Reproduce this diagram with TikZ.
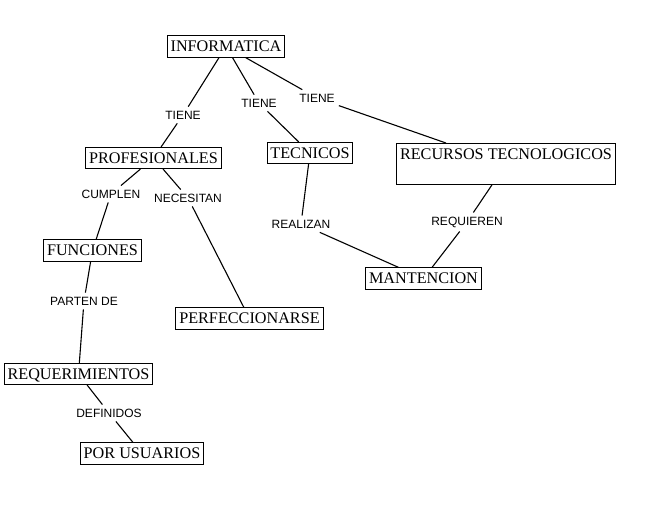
\documentclass[tikz,border=0pt]{standalone}
\usepackage{fontspec}
\setmainfont{Liberation Serif}
\newfontfamily\lblfont{Liberation Sans}
\begin{document}
\begin{tikzpicture}[x=1pt,y=-1pt,
  concept/.style={draw,line width=1pt,font=\fontsize{16.2}{16}\selectfont,inner xsep=3.3pt,inner ysep=5.2pt,text height=10.8pt,text depth=0pt},
  link/.style={font=\lblfont\fontsize{12}{12}\selectfont,inner sep=4pt},
  conn/.style={line width=1.1pt}]
\useasboundingbox (0,0) rectangle (656,505);
% concepts
\node[concept] (inf) at (226,46.5) {INFORMATICA};
\node[concept] (pro) at (153.5,158) {PROFESIONALES};
\node[concept] (tec) at (310,153) {TECNICOS};
\node[concept,text depth=19.8pt,anchor=north] (rec) at (506,143) {RECURSOS TECNOLOGICOS};
\node[concept] (man) at (423.5,278.5) {MANTENCION};
\node[concept] (fun) at (92.5,250.5) {FUNCIONES};
\node[concept] (per) at (249.5,318.5) {PERFECCIONARSE};
\node[concept] (req) at (78.5,374) {REQUERIMIENTOS};
\node[concept] (usu) at (142,453.5) {POR USUARIOS};
% linking words
\node[link] (t1) at (183,115) {TIENE};
\node[link] (t2) at (259,103) {TIENE};
\node[link] (t3) at (317,98) {TIENE};
\node[link] (cum) at (111,194) {CUMPLEN};
\node[link] (nec) at (188,198) {NECESITAN};
\node[link] (rea) at (301,224) {REALIZAN};
\node[link] (rqn) at (467,222) {REQUIEREN};
\node[link] (par) at (84,301) {PARTEN DE};
\node[link] (def) at (109,413) {DEFINIDOS};
% connectors
\draw[conn] (inf) -- (t1);
\draw[conn] (t1) -- (pro);
\draw[conn] (inf) -- (t2);
\draw[conn] (t2) -- (tec);
\draw[conn] (inf) -- (t3);
\draw[conn] (t3) -- (rec);
\draw[conn] (pro) -- (cum);
\draw[conn] (cum) -- (fun);
\draw[conn] (pro) -- (nec);
\draw[conn] (nec) -- (per);
\draw[conn] (tec) -- (rea);
\draw[conn] (rea) -- (man);
\draw[conn] (rec) -- (rqn);
\draw[conn] (rqn) -- (man);
\draw[conn] (fun) -- (par);
\draw[conn] (par) -- (req);
\draw[conn] (req) -- (def);
\draw[conn] (def) -- (usu);
\end{tikzpicture}
\end{document}
